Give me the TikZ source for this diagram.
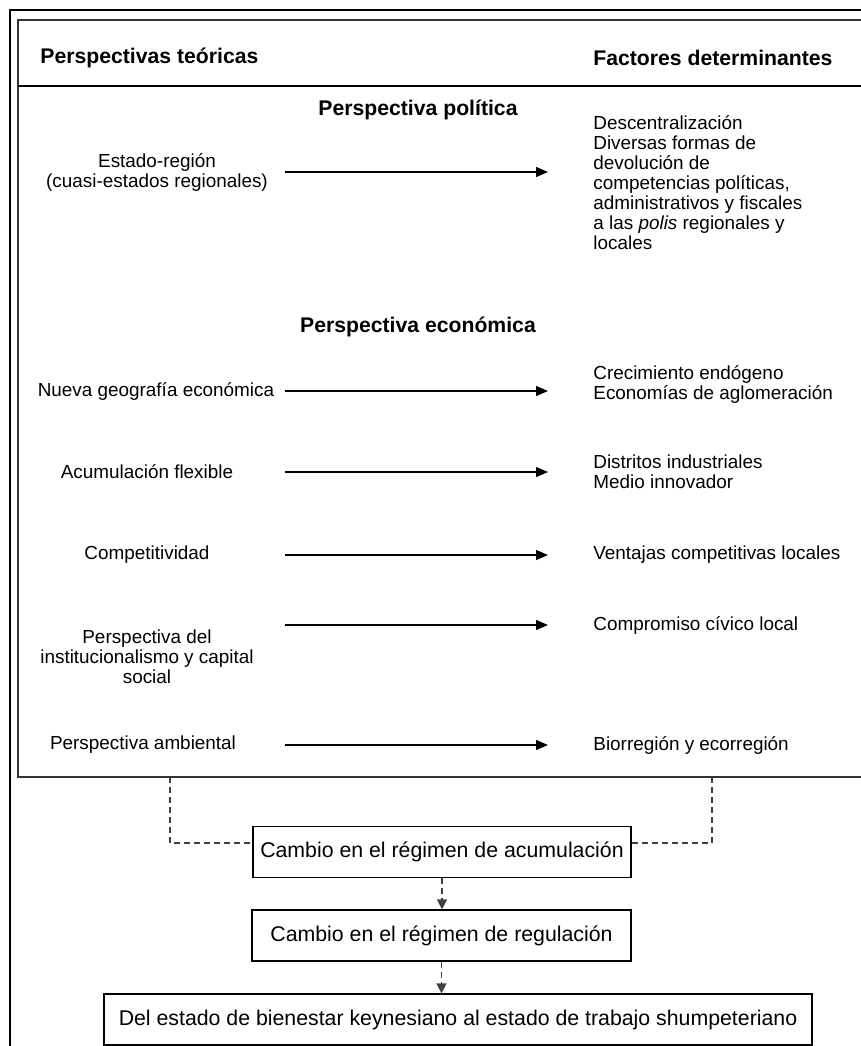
\documentclass[tikz,border=0pt]{standalone}
\usepackage{fontspec}
\setmainfont{Liberation Sans}
\usetikzlibrary{arrows.meta,positioning}
\tikzset{
	teoria/.style={align=center, inner sep=0pt, font=\fontsize{9.45}{10}\selectfont},
	factor/.style={align=left, anchor=west, inner sep=0pt, font=\fontsize{9.45}{10}\selectfont},
	titulo/.style={inner sep=0pt, font=\fontsize{10.6}{12}\selectfont\bfseries},
	caja/.style={draw, line width=0.6pt, minimum height=25.5pt, inner sep=0pt, font=\fontsize{10.65}{12}\selectfont},
	flecha/.style={-{Triangle[length=6pt,width=5pt]}, line width=0.6pt},
	guion/.style={dash pattern=on 3pt off 2pt, line width=0.6pt, draw=black!75},
	punta/.style={-{Triangle[length=5pt,width=5pt]}},
}
\begin{document}
\begin{tikzpicture}[x=0.5pt,y=-0.5pt]
	\useasboundingbox (0,0) rectangle (861,1046);
	\clip (0,0) rectangle (861,1046);
	% marcos
	\draw[line width=0.6pt] (10,10) rectangle (900,1100);
	\draw[line width=0.6pt, draw=black!80] (18,20) rectangle (900,777);
	\draw[line width=0.6pt] (18,86) -- (900,86);
	% encabezados
	\node[titulo, anchor=west] (hTeoricas) at (40,58) {Perspectivas teóricas};
	\node[titulo, anchor=west] (hFactores) at (593,58) {Factores determinantes};
	\node[titulo] (hPolitica) at (418,110) {Perspectiva política};
	\node[titulo] (hEconomica) at (418,327) {Perspectiva económica};
	% perspectivas
	\node[teoria] (tEstado) at (157,172) {Estado-región\\(cuasi-estados regionales)};
	\node[teoria] (tNueva) at (156,391) {Nueva geografía económica};
	\node[teoria] (tAcum) at (147,472) {Acumulación flexible};
	\node[teoria] (tCompet) at (147,555) {Competitividad};
	\node[teoria] (tInst) at (147,657) {Perspectiva del\\institucionalismo y capital\\social};
	\node[teoria] (tAmb) at (143,745) {Perspectiva ambiental};
	% factores
	\node[factor] (fDescent) at (593,183) {Descentralización\\Diversas formas de\\devolución de\\competencias políticas,\\administrativos y fiscales\\a las \textit{polis} regionales y\\locales};
	\node[factor] (fCrec) at (593,384) {Crecimiento endógeno\\Economías de aglomeración};
	\node[factor] (fDistr) at (593,472) {Distritos industriales\\Medio innovador};
	\node[factor] (fVentaj) at (593,555) {Ventajas competitivas locales};
	\node[factor] (fCompr) at (593,625) {Compromiso cívico local};
	\node[factor] (fBior) at (593,745) {Biorregión y ecorregión};
	% flechas
	\coordinate (ini) at (285,0);
	\coordinate (fin) at (548,0);
	\draw[flecha] (tEstado -| ini) -- (tEstado -| fin);
	\draw[flecha] (tNueva -| ini) -- (tNueva -| fin);
	\draw[flecha] (tAcum -| ini) -- (tAcum -| fin);
	\draw[flecha] (tCompet -| ini) -- (tCompet -| fin);
	\draw[flecha] (fCompr -| ini) -- (fCompr -| fin);
	\draw[flecha] (tAmb -| ini) -- (tAmb -| fin);
	% cambios de regimen
	\node[caja, minimum width=189pt] (cAcum) at (442,852) {Cambio en el régimen de acumulación};
	\node[caja, minimum width=189.5pt] (cRegul) at (441.5,935.5) {Cambio en el régimen de regulación};
	\node[caja, minimum width=354pt] (cBien) at (458,1019.5) {Del estado de bienestar keynesiano al estado de trabajo shumpeteriano};
	\coordinate (izq) at (170,777);
	\coordinate (der) at (712,777);
	\draw[guion] (izq) |- ([yshift=4.5pt]cAcum.west);
	\draw[guion] (der) |- ([yshift=4.5pt]cAcum.east);
	\draw[guion, punta] (cAcum.south) -- (cRegul.north -| cAcum.south);
	\draw[guion, punta] (cRegul.south) -- (cBien.north -| cRegul.south);
\end{tikzpicture}
\end{document}
